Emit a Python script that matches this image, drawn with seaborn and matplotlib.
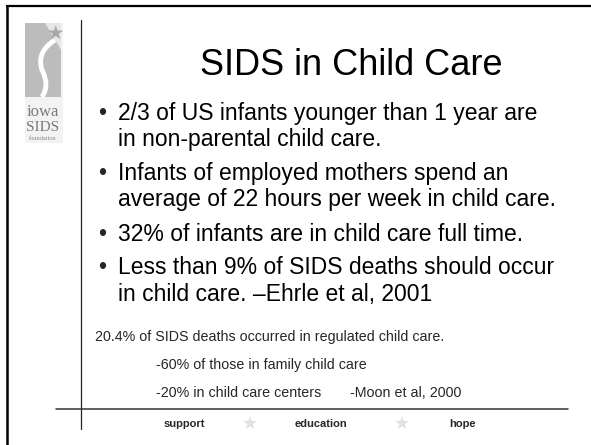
import matplotlib
matplotlib.use('Agg')
import matplotlib.pyplot as plt
import matplotlib.patches as mpatches
from matplotlib.path import Path
import seaborn as sns

TITLE = 'SIDS in Child Care'
BULLETS = [
    ['2/3 of US infants younger than 1 year are', 'in non-parental child care.'],
    ['Infants of employed mothers spend an', 'average of 22 hours per week in child care.'],
    ['32% of infants are in child care full time.'],
    ['Less than 9% of SIDS deaths should occur', 'in child care. \u2013Ehrle et al, 2001'],
]
NOTE_HEAD = '20.4% of SIDS deaths occurred in regulated child care.'
NOTE_SUB = ['-60% of those in family child care', '-20% in child care centers']
NOTE_CITE = '-Moon et al, 2000'
FOOTER = ['support', 'education', 'hope']
LOGO_WORDS = ['iowa', 'SIDS', 'foundation']


def main():
    sns.set_theme(style='white')
    plt.rcParams['font.family'] = ['Liberation Sans', 'DejaVu Sans']

    fig = plt.figure(figsize=(5.91, 4.45), dpi=100)
    ax = fig.add_axes([0, 0, 1, 1])
    ax.set_xlim(0, 591)
    ax.set_ylim(445, 0)
    ax.axis('off')

    # slide frame and rules
    ax.plot([6, 591], [6, 6], color='black', lw=1.6, solid_capstyle='butt')
    ax.plot([7, 7], [6, 445], color='black', lw=1.8, solid_capstyle='butt')
    ax.plot([80.5, 80.5], [20, 429], color='#222222', lw=0.9)
    ax.plot([56, 568], [408.5, 408.5], color='#333333', lw=1.1)

    # logo: grey block with a white S swoosh and a star
    ax.add_patch(mpatches.Rectangle((25, 23), 38, 120, color='#f3f3f3', lw=0))
    ax.add_patch(mpatches.Rectangle((25, 23), 36, 74, color='#bcbcbc', lw=0))
    ax.add_patch(mpatches.Polygon([(45, 23), (61, 23), (61, 50)], color='#e6e6e6', lw=0))
    s_verts = [(55, 40), (36, 52), (42, 70), (50, 85), (42, 97)]
    s_codes = [Path.MOVETO, Path.CURVE3, Path.CURVE3, Path.CURVE3, Path.CURVE3]
    ax.add_patch(mpatches.PathPatch(Path(s_verts, s_codes), facecolor='none',
                                    edgecolor='white', lw=3.5))
    ax.text(55, 33, '\u2605', fontsize=14, color='#a8a8a8', ha='center', va='center',
            family='DejaVu Sans')
    ax.text(43, 116, LOGO_WORDS[0], fontsize=12, color='#7a7a7a', ha='center',
            va='baseline', family='Liberation Serif')
    ax.text(43, 131, LOGO_WORDS[1], fontsize=11, color='#7a7a7a', ha='center',
            va='baseline', family='Liberation Serif')
    ax.text(43, 140, LOGO_WORDS[2], fontsize=4.5, color='#8a8a8a', ha='center',
            va='baseline', family='Liberation Serif')

    # title
    ax.text(351, 75, TITLE, fontsize=26, color='black', ha='center', va='baseline')

    # bullets
    baselines = [[120, 146], [180, 206], [241], [274, 301]]
    for lines, ys in zip(BULLETS, baselines):
        ax.text(102, ys[0], '\u2022', fontsize=16.5, ha='center', va='baseline')
        for line, y in zip(lines, ys):
            ax.text(118, y, line, fontsize=16.5, color='black', ha='left', va='baseline')

    # notes
    ax.text(95, 341, NOTE_HEAD, fontsize=10.3, ha='left', va='baseline')
    ax.text(156, 369, NOTE_SUB[0], fontsize=10.3, ha='left', va='baseline')
    ax.text(156, 397, NOTE_SUB[1], fontsize=10.3, ha='left', va='baseline')
    ax.text(350, 397, NOTE_CITE, fontsize=10.3, ha='left', va='baseline')

    # footer
    for word, x in zip(FOOTER, [184, 321, 462]):
        ax.text(x, 427, word, fontsize=8, fontweight='bold', ha='center', va='baseline')
    for x in [250, 402]:
        ax.text(x, 424, '\u2605', fontsize=13, color='#e0e0e0', ha='center', va='center',
                family='DejaVu Sans')

    fig.savefig('out.png', dpi=100)
    plt.close(fig)


if __name__ == '__main__':
    main()
